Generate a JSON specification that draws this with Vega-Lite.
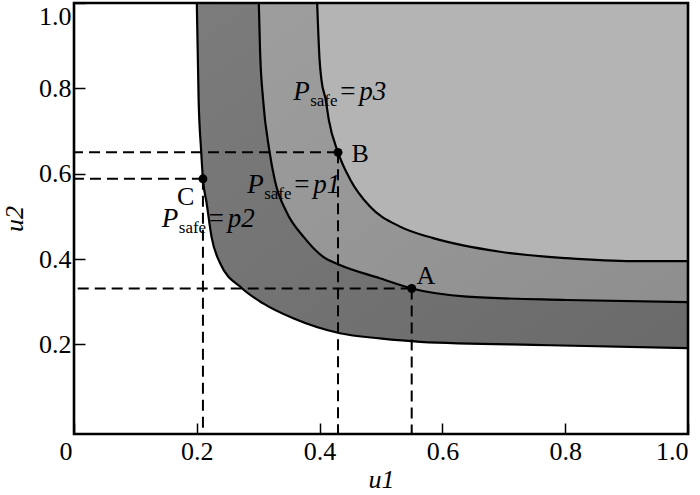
{
  "$schema": "https://vega.github.io/schema/vega-lite/v6.json",
  "width": 614,
  "height": 431,
  "autosize": "none",
  "padding": {"left": 74, "top": 3, "right": 12, "bottom": 61},
  "background": "white",
  "config": {
    "view": {"stroke": null},
    "font": "Liberation Serif"
  },
  "datasets": {
    "curves": [
      {"curve": "p2", "u1": 0.2, "u2": 1.0},
      {"curve": "p2", "u1": 0.203, "u2": 0.772},
      {"curve": "p2", "u1": 0.207, "u2": 0.655},
      {"curve": "p2", "u1": 0.21, "u2": 0.588},
      {"curve": "p2", "u1": 0.216, "u2": 0.531},
      {"curve": "p2", "u1": 0.224, "u2": 0.452},
      {"curve": "p2", "u1": 0.238, "u2": 0.39},
      {"curve": "p2", "u1": 0.274, "u2": 0.331},
      {"curve": "p2", "u1": 0.308, "u2": 0.296},
      {"curve": "p2", "u1": 0.357, "u2": 0.261},
      {"curve": "p2", "u1": 0.433, "u2": 0.226},
      {"curve": "p2", "u1": 0.498, "u2": 0.214},
      {"curve": "p2", "u1": 0.564, "u2": 0.206},
      {"curve": "p2", "u1": 0.775, "u2": 0.198},
      {"curve": "p2", "u1": 1.0, "u2": 0.191},
      {"curve": "p1", "u1": 0.301, "u2": 1.0},
      {"curve": "p1", "u1": 0.303, "u2": 0.89},
      {"curve": "p1", "u1": 0.308, "u2": 0.773},
      {"curve": "p1", "u1": 0.318, "u2": 0.656},
      {"curve": "p1", "u1": 0.327, "u2": 0.585},
      {"curve": "p1", "u1": 0.347, "u2": 0.508},
      {"curve": "p1", "u1": 0.374, "u2": 0.452},
      {"curve": "p1", "u1": 0.406, "u2": 0.405},
      {"curve": "p1", "u1": 0.433, "u2": 0.386},
      {"curve": "p1", "u1": 0.498, "u2": 0.355},
      {"curve": "p1", "u1": 0.55, "u2": 0.331},
      {"curve": "p1", "u1": 0.64, "u2": 0.312},
      {"curve": "p1", "u1": 0.802, "u2": 0.304},
      {"curve": "p1", "u1": 1.0, "u2": 0.299},
      {"curve": "p3", "u1": 0.396, "u2": 1.0},
      {"curve": "p3", "u1": 0.4, "u2": 0.866},
      {"curve": "p3", "u1": 0.403, "u2": 0.82},
      {"curve": "p3", "u1": 0.41, "u2": 0.773},
      {"curve": "p3", "u1": 0.415, "u2": 0.726},
      {"curve": "p3", "u1": 0.43, "u2": 0.65},
      {"curve": "p3", "u1": 0.45, "u2": 0.586},
      {"curve": "p3", "u1": 0.482, "u2": 0.523},
      {"curve": "p3", "u1": 0.531, "u2": 0.476},
      {"curve": "p3", "u1": 0.585, "u2": 0.449},
      {"curve": "p3", "u1": 0.694, "u2": 0.417},
      {"curve": "p3", "u1": 0.802, "u2": 0.402},
      {"curve": "p3", "u1": 0.911, "u2": 0.395},
      {"curve": "p3", "u1": 1.0, "u2": 0.395}
    ],
    "points": [
      {"name": "A", "u1": 0.55, "u2": 0.331, "lx": 0.573, "ly": 0.36},
      {"name": "B", "u1": 0.43, "u2": 0.65, "lx": 0.466, "ly": 0.646},
      {"name": "C", "u1": 0.21, "u2": 0.588, "lx": 0.182, "ly": 0.545}
    ],
    "labels": [
      {"p": "p3", "u1": 0.357, "u2": 0.772},
      {"p": "p1", "u1": 0.282, "u2": 0.555},
      {"p": "p2", "u1": 0.143, "u2": 0.475}
    ],
    "frame": [{"x0": 0, "x1": 1, "y0": -0.01, "y1": 1}]
  },
  "layer": [
    {
      "data": {"name": "curves"},
      "transform": [{"filter": "datum.curve == 'p2'"}],
      "mark": {"type": "area", "interpolate": "monotone",
        "color": {"gradient": "linear", "x1": 0, "y1": 0, "x2": 1, "y2": 1,
          "stops": [{"offset": 0, "color": "#7c7c7c"}, {"offset": 1, "color": "#6a6a6a"}]}},
      "encoding": {
        "x": {"field": "u1", "type": "quantitative",
          "scale": {"domain": [0, 1], "nice": false, "zero": false},
          "axis": {
            "title": "u1",
            "values": [0, 0.2, 0.4, 0.6, 0.8, 1.0],
            "labelExpr": "datum.value == 0 ? '0' : format(datum.value, '.1f')",
            "labelOffset": {"condition": {"test": "datum.value == 0", "value": -15}, "value": 0},
            "domain": false,
            "grid": false,
            "tickSize": -11,
            "tickWidth": 1.5,
            "tickColor": "black",
            "labelPadding": 15,
            "labelFont": "Liberation Serif",
            "labelFontSize": 26,
            "labelColor": "black",
            "titleFont": "Liberation Serif",
            "titleFontStyle": "italic",
            "titleFontWeight": "normal",
            "titleFontSize": 26,
            "titleColor": "black",
            "titlePadding": 2
          }
        },
        "y": {"field": "u2", "type": "quantitative",
          "scale": {"domain": [-0.01, 1], "nice": false, "zero": false},
          "axis": {
            "title": "u2",
            "values": [0.2, 0.4, 0.6, 0.8, 1.0],
            "labelExpr": "format(datum.value, '.1f')",
            "labelFlush": true,
            "domain": false,
            "grid": false,
            "tickSize": -11,
            "tickWidth": 1.5,
            "tickColor": "black",
            "labelPadding": 14,
            "labelFont": "Liberation Serif",
            "labelFontSize": 26,
            "labelColor": "black",
            "titleFont": "Liberation Serif",
            "titleFontStyle": "italic",
            "titleFontWeight": "normal",
            "titleFontSize": 26,
            "titleColor": "black",
            "titlePadding": 11
          }
        },
        "y2": {"datum": 1}
      }
    },
    {
      "data": {"name": "curves"},
      "transform": [{"filter": "datum.curve == 'p1'"}],
      "mark": {"type": "area", "interpolate": "monotone",
        "color": {"gradient": "linear", "x1": 0, "y1": 0, "x2": 1, "y2": 1,
          "stops": [{"offset": 0, "color": "#9e9e9e"}, {"offset": 1, "color": "#8e8e8e"}]}},
      "encoding": {
        "x": {"field": "u1", "type": "quantitative"},
        "y": {"field": "u2", "type": "quantitative"},
        "y2": {"datum": 1}
      }
    },
    {
      "data": {"name": "curves"},
      "transform": [{"filter": "datum.curve == 'p3'"}],
      "mark": {"type": "area", "color": "#b4b4b4", "interpolate": "monotone"},
      "encoding": {
        "x": {"field": "u1", "type": "quantitative"},
        "y": {"field": "u2", "type": "quantitative"},
        "y2": {"datum": 1}
      }
    },
    {
      "data": {"name": "labels"},
      "mark": {"type": "text", "text": "P", "font": "Liberation Serif", "fontStyle": "italic", "fontSize": 27, "align": "left", "baseline": "alphabetic", "color": "black"},
      "encoding": {
        "x": {"field": "u1", "type": "quantitative"},
        "y": {"field": "u2", "type": "quantitative"}
      }
    },
    {
      "data": {"name": "labels"},
      "mark": {"type": "text", "text": "safe", "font": "Liberation Serif", "fontSize": 17, "align": "left", "baseline": "alphabetic", "dx": 17, "dy": 6, "color": "black"},
      "encoding": {
        "x": {"field": "u1", "type": "quantitative"},
        "y": {"field": "u2", "type": "quantitative"}
      }
    },
    {
      "data": {"name": "labels"},
      "mark": {"type": "text", "text": "=", "font": "Liberation Serif", "fontSize": 27, "align": "left", "baseline": "alphabetic", "dx": 47, "color": "black"},
      "encoding": {
        "x": {"field": "u1", "type": "quantitative"},
        "y": {"field": "u2", "type": "quantitative"}
      }
    },
    {
      "data": {"name": "labels"},
      "mark": {"type": "text", "font": "Liberation Serif", "fontStyle": "italic", "fontSize": 27, "align": "left", "baseline": "alphabetic", "dx": 66, "color": "black"},
      "encoding": {
        "x": {"field": "u1", "type": "quantitative"},
        "y": {"field": "u2", "type": "quantitative"},
        "text": {"field": "p", "type": "nominal"}
      }
    },
    {
      "data": {"name": "curves"},
      "mark": {"type": "line", "color": "black", "strokeWidth": 2.2, "interpolate": "monotone"},
      "encoding": {
        "x": {"field": "u1", "type": "quantitative"},
        "y": {"field": "u2", "type": "quantitative"},
        "detail": {"field": "curve", "type": "nominal"}
      }
    },
    {
      "data": {"name": "points"},
      "mark": {"type": "rule", "color": "black", "strokeWidth": 2, "strokeDash": [11, 6]},
      "encoding": {
        "x": {"field": "u1", "type": "quantitative"},
        "x2": {"datum": 0},
        "y": {"field": "u2", "type": "quantitative"}
      }
    },
    {
      "data": {"name": "points"},
      "mark": {"type": "rule", "color": "black", "strokeWidth": 2, "strokeDash": [11, 6]},
      "encoding": {
        "x": {"field": "u1", "type": "quantitative"},
        "y": {"field": "u2", "type": "quantitative"},
        "y2": {"datum": -0.01}
      }
    },
    {
      "data": {"name": "points"},
      "mark": {"type": "point", "filled": true, "color": "black", "size": 80, "opacity": 1},
      "encoding": {
        "x": {"field": "u1", "type": "quantitative"},
        "y": {"field": "u2", "type": "quantitative"}
      }
    },
    {
      "data": {"name": "points"},
      "mark": {"type": "text", "font": "Liberation Serif", "fontSize": 26, "align": "center", "baseline": "middle", "color": "black"},
      "encoding": {
        "x": {"field": "lx", "type": "quantitative"},
        "y": {"field": "ly", "type": "quantitative"},
        "text": {"field": "name", "type": "nominal"}
      }
    },
    {
      "data": {"name": "frame"},
      "mark": {"type": "rect", "fill": null, "stroke": "black", "strokeWidth": 2.6},
      "encoding": {
        "x": {"field": "x0", "type": "quantitative"},
        "x2": {"field": "x1"},
        "y": {"field": "y0", "type": "quantitative"},
        "y2": {"field": "y1"}
      }
    }
  ]
}
